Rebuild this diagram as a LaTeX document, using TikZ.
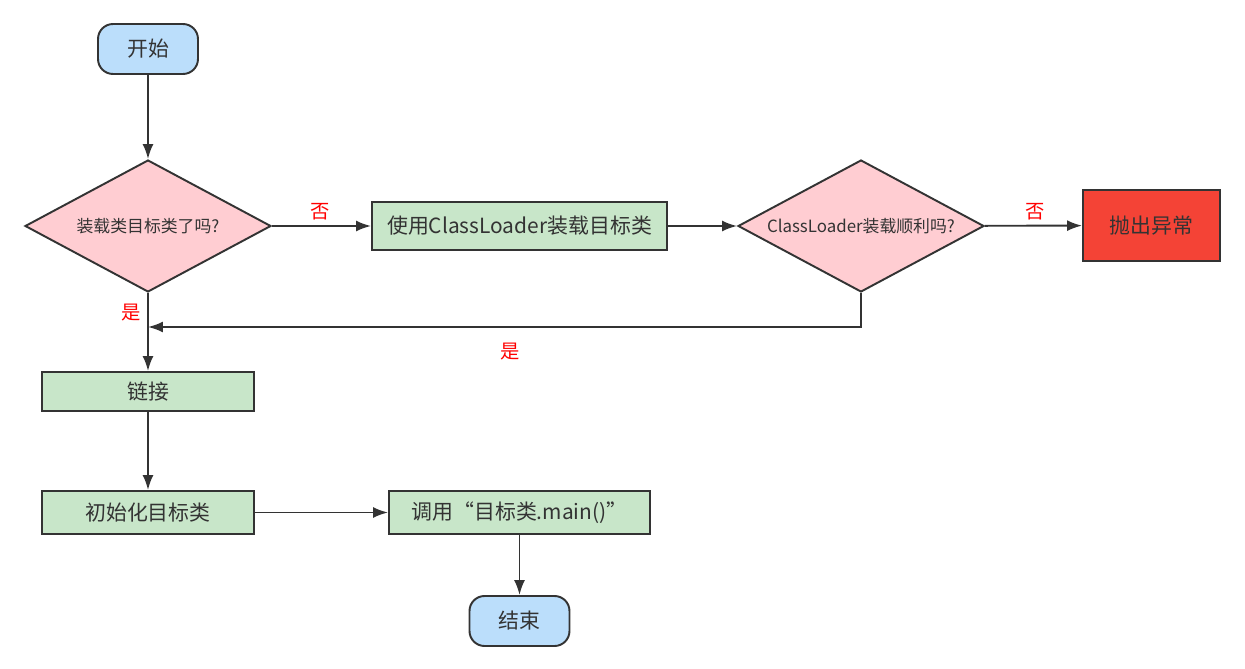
\documentclass[tikz,border=0pt]{standalone}
\usepackage{fontspec}
\setmainfont{Noto Sans CJK SC}
\usetikzlibrary{shapes.geometric,arrows.meta}

\definecolor{inkgray}{HTML}{333333}
\definecolor{termblue}{HTML}{BBDEFB}
\definecolor{askpink}{HTML}{FFCDD2}
\definecolor{stepgreen}{HTML}{C8E6C9}
\definecolor{failred}{HTML}{F44336}

\tikzset{
  box/.style={draw=inkgray, line width=1.1pt, text=inkgray, inner sep=0pt,
    font=\fontsize{11.9}{14}\selectfont},
  terminal/.style={box, fill=termblue, rounded corners=0.3cm,
    minimum width=2cm, minimum height=1cm},
  decision/.style={box, diamond, aspect=1.86, fill=askpink,
    minimum width=4.92cm, minimum height=2.64cm, font=\fontsize{9.6}{11}\selectfont},
  stepbox/.style={box, fill=stepgreen},
  flow/.style={draw=inkgray, line width=1.1pt, -{Latex[length=0.3cm,width=0.22cm]}},
  answer/.style={text=red, font=\fontsize{11}{13}\selectfont}
}

\begin{document}
\begin{tikzpicture}[x=0.02cm,y=-0.02cm]
  \useasboundingbox (0,0) rectangle (1245,669);

  \node[terminal] (start) at (148,49) {开始};
  \node[decision] (loaded) at (148,226) {装载类目标类了吗?};
  \node[stepbox, minimum width=5.9cm, minimum height=0.96cm] (load) at (519.5,226) {使用ClassLoader装载目标类};
  \node[decision] (okay) at (861,226) {ClassLoader装载顺利吗?};
  \node[box, fill=failred, minimum width=2.74cm, minimum height=1.42cm] (throw) at (1151.5,225.5) {抛出异常};
  \node[stepbox, minimum width=4.24cm, minimum height=0.78cm] (link) at (148,391.5) {链接};
  \node[stepbox, minimum width=4.24cm, minimum height=0.86cm] (init) at (148,512.5) {初始化目标类};
  \node[stepbox, minimum width=5.22cm, minimum height=0.86cm] (call) at (519.5,512.5) {调用“目标类.main()”};
  \node[terminal] (end) at (519.5,621) {结束};

  \coordinate (merge) at (148,327);

  \draw[flow] (start) -- (loaded);
  \draw[flow] (loaded) -- (load);
  \draw[flow] (load) -- (okay);
  \draw[flow] (okay) -- (throw);
  \draw[flow] (okay.south) |- (merge);
  \draw[flow] (loaded) -- (link);
  \draw[flow] (link) -- (init);
  \draw[flow] (init) -- (call);
  \draw[flow] (call) -- (end);

  \node[answer] (no1) at (320,212) {否};
  \node[answer] (no2) at (1035,212) {否};
  \node[answer] (yes1) at (131,313) {是};
  \node[answer] (yes2) at (510,352) {是};
\end{tikzpicture}
\end{document}
